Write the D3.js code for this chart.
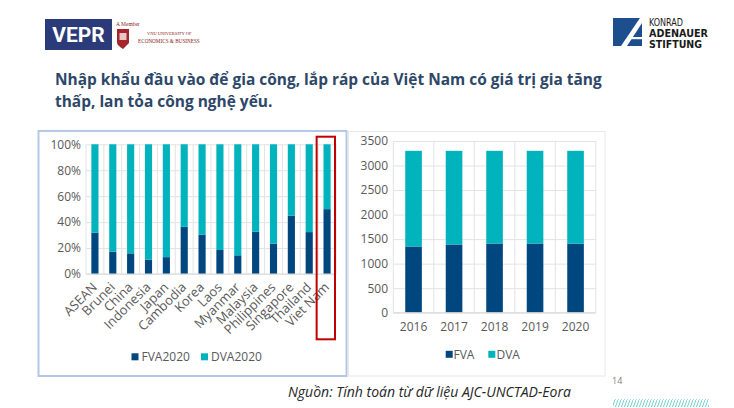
<!DOCTYPE html>
<html>
<head>
<meta charset="utf-8">
<script src="https://cdn.jsdelivr.net/npm/d3@7/dist/d3.min.js"></script>
<style>
  html, body { margin: 0; padding: 0; background: #fff; }
  svg { display: block; }
  text { font-family: "Open Sans", "Noto Sans", sans-serif; }
</style>
</head>
<body>
<svg id="slide" width="734" height="408"></svg>
<script>
// ---------- data ----------
const titleLines = ["Nhập khẩu đầu vào để gia công, lắp ráp của Việt Nam có giá trị gia tăng",
                    "thấp, lan tỏa công nghệ yếu."];
const sourceText = "Nguồn: Tính toán từ dữ liệu AJC-UNCTAD-Eora";
const pageNumber = "14";

const countries = ["ASEAN","Brunei","China","Indonesia","Japan","Cambodia","Korea","Laos",
                   "Myanmar","Malaysia","Philippines","Singapore","Thailand","Viet Nam"];
const fva2020 = [31.8, 17.2, 15.9, 11.0, 13.0, 36.4, 30.3, 18.5, 14.4, 32.6, 23.3, 44.9, 32.3, 50.0];
const dva2020 = fva2020.map(v => 100 - v);
const leftSeries = ["FVA2020", "DVA2020"];
const pctTicks = [0, 20, 40, 60, 80, 100];
const highlightCountry = "Viet Nam";

const years = ["2016","2017","2018","2019","2020"];
const fva = [1350, 1390, 1410, 1410, 1405];
const dva = [1950, 1910, 1890, 1890, 1895];
const rightSeries = ["FVA", "DVA"];
const valTicks = [0, 500, 1000, 1500, 2000, 2500, 3000, 3500];

// ---------- styles ----------
const C_FVA = "#00467f", C_DVA = "#00b3bc", C_GRID = "#e3e3e3", C_TXT = "#595959";

const svg = d3.select("#slide");

// ---------- header logos ----------
const logo = svg.append("g");
logo.append("rect").attr("x", 45).attr("y", 19).attr("width", 67).attr("height", 31).attr("fill", "#2b3a78");
logo.append("text").attr("x", 78.5).attr("y", 42).attr("text-anchor", "middle")
  .attr("fill", "#fff").attr("font-size", 21).attr("font-weight", 700)
  .style("font-family", "Roboto, 'Open Sans', sans-serif").text("VEPR");
logo.append("path").attr("d", "M117,29 L129,29 L129,43 Q123,49 123,49 Q117,45 117,43 Z").attr("fill", "#a4262c");
logo.append("rect").attr("x", 119.5).attr("y", 33).attr("width", 7).attr("height", 7).attr("fill", "#e8c6c6");
logo.append("text").attr("x", 116).attr("y", 26).attr("font-size", 5.5).attr("fill", "#8b1a1a")
  .style("font-family", "'Liberation Serif', serif").text("A Member");
logo.append("text").attr("x", 147).attr("y", 35).attr("font-size", 4.5).attr("fill", "#8b1a1a")
  .style("font-family", "'Liberation Serif', serif").text("VNU UNIVERSITY OF");
logo.append("text").attr("x", 138).attr("y", 43).attr("font-size", 5.2).attr("fill", "#8b1a1a")
  .style("font-family", "'Liberation Serif', serif").text("ECONOMICS & BUSINESS");

const kas = svg.append("g");
kas.append("rect").attr("x", 613).attr("y", 18).attr("width", 29).attr("height", 28).attr("fill", "#1d4f8f");
kas.append("polygon").attr("points", "621,46 627,46 642,23 642,15").attr("fill", "#fff");
kas.append("rect").attr("x", 631).attr("y", 37).attr("width", 11).attr("height", 2.2).attr("fill", "#fff");
[["KONRAD", 25.5, 400, 34], ["ADENAUER", 36.5, 700, 59], ["STIFTUNG", 47.5, 700, 53]].forEach(l => {
  kas.append("text").attr("x", 649).attr("y", l[1]).attr("font-weight", l[2])
    .attr("font-size", 9.6).attr("fill", "#1a1a1a")
    .style("font-family", "'Liberation Sans Narrow', 'DejaVu Sans Condensed', sans-serif")
    .attr("textLength", l[3]).attr("lengthAdjust", "spacingAndGlyphs").text(l[0]);
});

// ---------- title ----------
const t1 = svg.append("text").attr("x", 55).attr("y", 85).attr("font-size", 16).attr("font-weight", 700)
  .attr("fill", "#2d4769").text(titleLines[0]);
const w1 = t1.node().getComputedTextLength();
const fs = 16 * 547 / w1;
t1.attr("font-size", fs);
svg.append("text").attr("x", 55).attr("y", 107).attr("font-size", fs).attr("font-weight", 700)
  .attr("fill", "#2d4769").text(titleLines[1]);

// ---------- left chart ----------
svg.append("rect").attr("x", 38.5).attr("y", 131).attr("width", 308).attr("height", 245)
  .attr("fill", "none").attr("stroke", "#b4c7e7").attr("stroke-width", 2);

const xL = d3.scaleBand().domain(countries).range([86, 336]).padding(0);
const yL = d3.scaleLinear().domain([0, 100]).range([274, 144.3]);
const gL = svg.append("g");

// horizontal grid
gL.append("g").attr("transform", "translate(86,0)")
  .call(d3.axisLeft(yL).tickValues(pctTicks).tickSize(-250).tickFormat(""))
  .call(g => g.select(".domain").remove())
  .call(g => g.selectAll("line").attr("stroke", C_GRID));
// vertical grid
gL.append("g").selectAll("line").data(countries.concat(["__end"])).join("line")
  .attr("x1", (d, i) => i < countries.length ? xL(d) : xL.range()[1])
  .attr("x2", (d, i) => i < countries.length ? xL(d) : xL.range()[1])
  .attr("y1", yL(100)).attr("y2", yL(0)).attr("stroke", C_GRID);
// y labels
gL.append("g").attr("transform", "translate(81,0)")
  .call(d3.axisLeft(yL).tickValues(pctTicks).tickSize(0).tickPadding(0).tickFormat(d => d + "%"))
  .call(g => g.select(".domain").remove())
  .call(g => g.selectAll("text").attr("fill", C_TXT).attr("font-size", 12).style("font-family", "'Open Sans', sans-serif"));

const bwL = xL.bandwidth() * 0.4;
const stackL = d3.stack().keys([0, 1]).value((d, k) => d[k])(countries.map((c, i) => [fva2020[i], dva2020[i]]));
const colorsL = [C_FVA, C_DVA];
stackL.forEach((layer, li) => {
  gL.append("g").attr("fill", colorsL[li]).selectAll("rect").data(layer).join("rect")
    .attr("x", (d, i) => xL(countries[i]) + (xL.bandwidth() - bwL) / 2)
    .attr("width", bwL)
    .attr("y", d => yL(d[1]))
    .attr("height", d => yL(d[0]) - yL(d[1]));
});
// baseline
gL.append("line").attr("x1", 86).attr("x2", 336).attr("y1", yL(0)).attr("y2", yL(0)).attr("stroke", "#d9d9d9");

// category labels
gL.append("g").selectAll("text").data(countries).join("text")
  .attr("transform", d => `translate(${xL(d) + xL.bandwidth() / 2 + 3},288) rotate(-45)`)
  .attr("text-anchor", "end").attr("font-size", 13).attr("fill", C_TXT).text(d => d);

// highlight
gL.append("rect")
  .attr("x", xL(highlightCountry) - 1.5).attr("y", 136.7)
  .attr("width", xL.bandwidth() + 0.5).attr("height", 202.6)
  .attr("fill", "none").attr("stroke", "#c00000").attr("stroke-width", 2);

// legend
const legL = gL.append("g");
[[131.5, 141.5], [201, 211]].forEach((p, i) => {
  legL.append("rect").attr("x", p[0]).attr("y", 353.3).attr("width", 7).attr("height", 7).attr("fill", colorsL[i]);
  legL.append("text").attr("x", p[1]).attr("y", 361).attr("font-size", 12).attr("fill", C_TXT).text(leftSeries[i]);
});

// ---------- right chart ----------
svg.append("rect").attr("x", 348.5).attr("y", 131.5).attr("width", 256.5).attr("height", 244.5)
  .attr("fill", "none").attr("stroke", "#e8e8e8").attr("stroke-width", 1);

const xR = d3.scaleBand().domain(years).range([393.3, 595.8]).padding(0);
const yR = d3.scaleLinear().domain([0, 3500]).range([312.7, 141]);
const gR = svg.append("g");
gR.append("g").attr("transform", "translate(393.3,0)")
  .call(d3.axisLeft(yR).tickValues(valTicks).tickSize(-202.5).tickFormat(""))
  .call(g => g.select(".domain").remove())
  .call(g => g.selectAll("line").attr("stroke", C_GRID));
gR.append("g").selectAll("line").data(years.concat(["__end"])).join("line")
  .attr("x1", (d, i) => i < years.length ? xR(d) : xR.range()[1])
  .attr("x2", (d, i) => i < years.length ? xR(d) : xR.range()[1])
  .attr("y1", yR(3500)).attr("y2", yR(0)).attr("stroke", C_GRID);
gR.append("g").attr("transform", "translate(388,0)")
  .call(d3.axisLeft(yR).tickValues(valTicks).tickSize(0).tickPadding(0).tickFormat(d3.format("d")))
  .call(g => g.select(".domain").remove())
  .call(g => g.selectAll("text").attr("fill", C_TXT).attr("font-size", 12).style("font-family", "'Open Sans', sans-serif"));

const bwR = xR.bandwidth() * 0.41;
const stackR = d3.stack().keys([0, 1]).value((d, k) => d[k])(years.map((y, i) => [fva[i], dva[i]]));
stackR.forEach((layer, li) => {
  gR.append("g").attr("fill", colorsL[li]).selectAll("rect").data(layer).join("rect")
    .attr("x", (d, i) => xR(years[i]) + (xR.bandwidth() - bwR) / 2)
    .attr("width", bwR)
    .attr("y", d => yR(d[1]))
    .attr("height", d => yR(d[0]) - yR(d[1]));
});
gR.append("line").attr("x1", 393.3).attr("x2", 595.8).attr("y1", yR(0)).attr("y2", yR(0)).attr("stroke", "#d9d9d9");
gR.append("g").attr("transform", "translate(0,322)")
  .call(d3.axisBottom(xR).tickSize(0).tickPadding(0))
  .call(g => g.select(".domain").remove())
  .call(g => g.selectAll("text").attr("fill", C_TXT).attr("font-size", 12).attr("dy", "0.71em").style("font-family", "'Open Sans', sans-serif"));

const legR = gR.append("g");
[[445.7, 453.5], [488.3, 496.5]].forEach((p, i) => {
  legR.append("rect").attr("x", p[0]).attr("y", 350.8).attr("width", 7).attr("height", 7).attr("fill", colorsL[i]);
  legR.append("text").attr("x", p[1]).attr("y", 358.5).attr("font-size", 12).attr("fill", C_TXT).text(rightSeries[i]);
});

// ---------- footer ----------
svg.append("text").attr("x", 288).attr("y", 397).attr("font-size", 14).attr("font-style", "italic")
  .attr("fill", "#262626").text(sourceText);
svg.append("text").attr("x", 612).attr("y", 384).attr("font-size", 9).attr("fill", "#7f7f7f").text(pageNumber);

const defs = svg.append("defs");
const pat = defs.append("pattern").attr("id", "hatch").attr("patternUnits", "userSpaceOnUse")
  .attr("width", 3).attr("height", 8);
pat.append("line").attr("x1", 0).attr("y1", 8).attr("x2", 3).attr("y2", 0)
  .attr("stroke", "#5cc8c8").attr("stroke-width", 0.9);
svg.append("rect").attr("x", 613).attr("y", 399).attr("width", 96).attr("height", 8).attr("fill", "url(#hatch)");
</script>
</body>
</html>
